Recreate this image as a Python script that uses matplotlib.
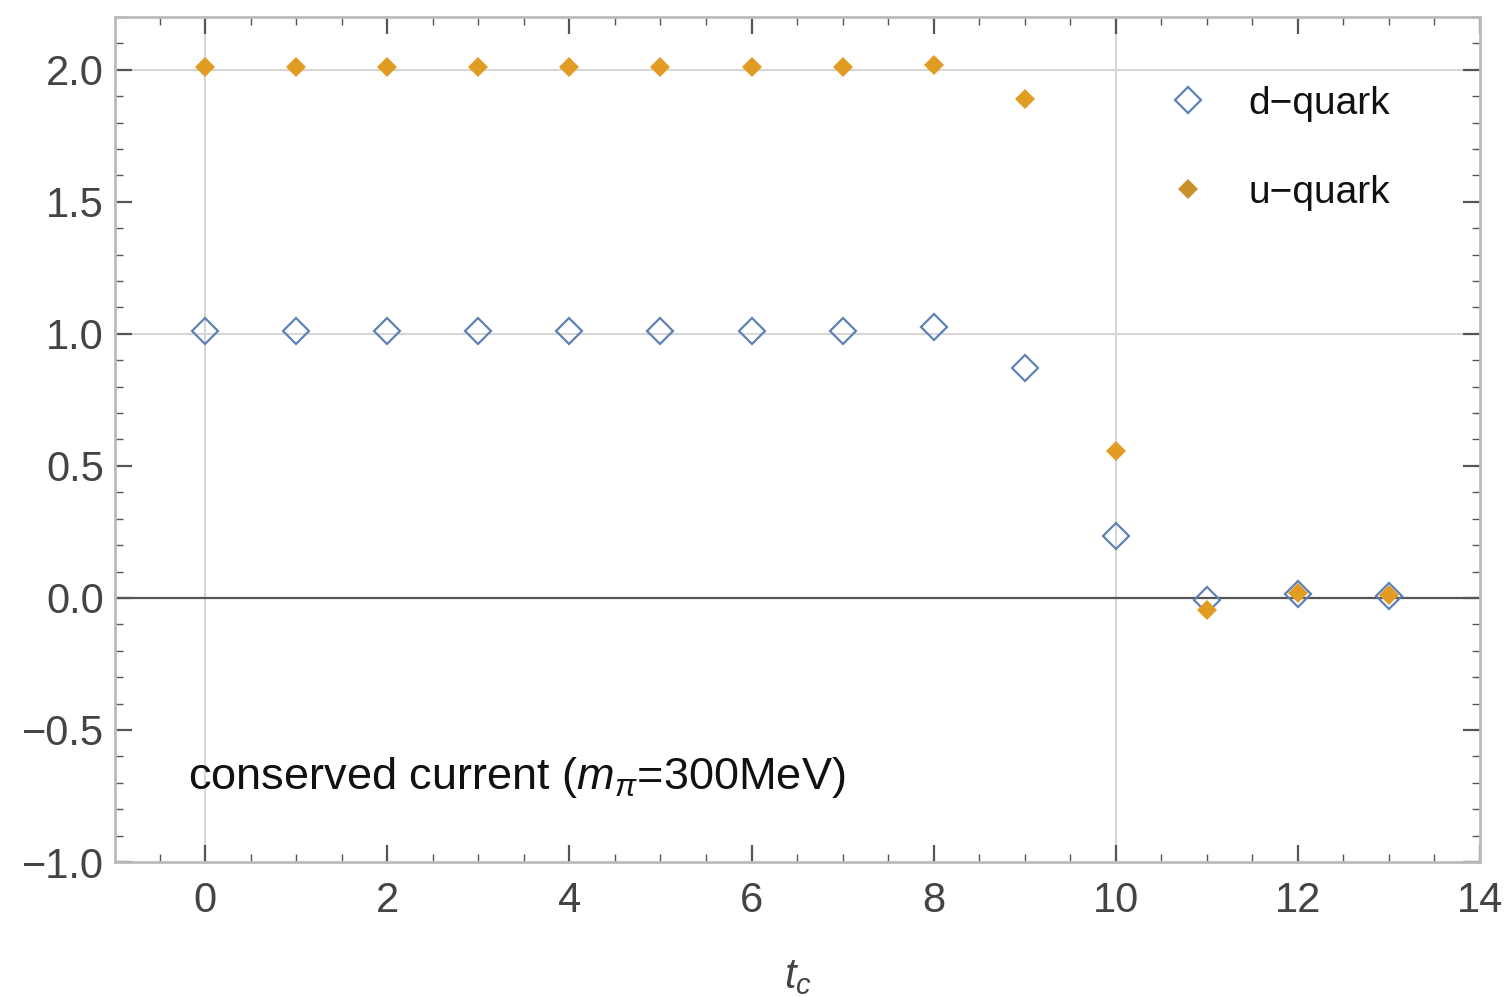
import numpy as np
import matplotlib
matplotlib.use("Agg")
import matplotlib.pyplot as plt
from matplotlib.lines import Line2D
from matplotlib.ticker import MultipleLocator

plt.rcParams['font.family'] = ['Liberation Sans', 'DejaVu Sans']
plt.rcParams['mathtext.fontset'] = 'custom'
plt.rcParams['mathtext.it'] = 'Liberation Sans:italic'
plt.rcParams['mathtext.rm'] = 'Liberation Sans'

tc = [0, 1, 2, 3, 4, 5, 6, 7, 8, 9, 10, 11, 12, 13]
d_quark = [1.01, 1.01, 1.01, 1.01, 1.01, 1.01, 1.01, 1.01, 1.027, 0.87, 0.236, -0.008, 0.015, 0.008]
u_quark = [2.01, 2.01, 2.01, 2.01, 2.01, 2.01, 2.01, 2.01, 2.02, 1.89, 0.555, -0.045, 0.02, 0.01]

BLUE = "#5E81B5"
ORANGE = "#E19C24"
TICKC = "#444444"

fig = plt.figure(figsize=(15.07, 9.97), dpi=100)
ax = fig.add_axes([115/1507, 1-862/997, (1480-115)/1507, (862-17)/997])

ax.set_xlim(-0.99, 14.0)
ax.set_ylim(-1.0, 2.2)

# grid lines like Mathematica GridLines
for gx in [0, 10]:
    ax.axvline(gx, color="#d6d6d6", lw=1.5, zorder=0)
for gy in [1.0, 2.0]:
    ax.axhline(gy, color="#d6d6d6", lw=1.5, zorder=0)
ax.axhline(0, color="#555555", lw=1.6, zorder=1)

ax.plot(tc, d_quark, ls="none", marker="D", ms=13, mfc="none", mec=BLUE, mew=1.6, zorder=3)
ax.plot(tc, u_quark, ls="none", marker="D", ms=10, mfc=ORANGE, mec=ORANGE, mew=0, zorder=4)

ax.xaxis.set_major_locator(MultipleLocator(2))
ax.xaxis.set_minor_locator(MultipleLocator(0.5))
ax.yaxis.set_major_locator(MultipleLocator(0.5))
ax.yaxis.set_minor_locator(MultipleLocator(0.1))
ax.set_yticks([-1.0, -0.5, 0.0, 0.5, 1.0, 1.5, 2.0])
ax.set_yticklabels(["\u22121.0", "\u22120.5", "0.0", "0.5", "1.0", "1.5", "2.0"])

ax.tick_params(which="both", direction="in", top=True, right=True, colors="#555555",
               labelcolor=TICKC, labelsize=30)
ax.tick_params(which="major", length=12, width=1.6)
ax.tick_params(which="minor", length=6, width=1.0)
ax.tick_params(axis="x", pad=14)
ax.tick_params(axis="y", pad=8)
for sp in ax.spines.values():
    sp.set_color("#bbbbbb")
    sp.set_linewidth(2)

ax.set_xlabel(r"$t_c$", fontsize=30, color=TICKC, labelpad=26)

ax.text(188, 997 - 777, r"conserved current ($m_\pi$=300MeV)", transform=None, fontsize=32.5,
        color="#111111", va="center", ha="left")

handles = [
    Line2D([], [], ls="none", marker="D", ms=13, mfc="none", mec=BLUE, mew=1.6),
    Line2D([], [], ls="none", marker="D", ms=10, mfc="#C8902A", mec="#C8902A", mew=0),
]
leg = ax.legend(handles, ["d\u2212quark", "u\u2212quark"], loc="upper right",
                bbox_to_anchor=(0.96, 0.96), frameon=False, fontsize=28,
                handletextpad=0.8, labelspacing=1.37, handlelength=1.5)
for t in leg.get_texts():
    t.set_color("#111111")

fig.savefig("out.png", dpi=100)
